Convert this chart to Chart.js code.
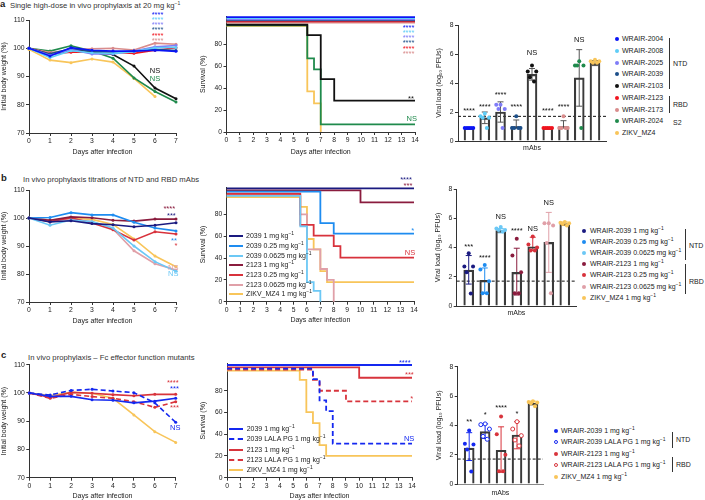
<!DOCTYPE html>
<html lang="en">
<head>
<meta charset="UTF-8">
<title>In vivo prophylaxis</title>
<script src="https://cdn.jsdelivr.net/npm/chart.js"></script>
<style>
  body { margin: 0; background: #fff; }
  #fig { position: relative; width: 705px; height: 500px; overflow: hidden; font-family: "Liberation Sans", Arial, sans-serif; color: #222; }
  #fig canvas { position: absolute; }
  .lbl { position: absolute; white-space: nowrap; font-size: 7px; line-height: 8px; transform: translateY(-50%); }
  .lbl sup { font-size: 5px; vertical-align: 3px; line-height: 0; }
  .ttl { font-size: 7.7px; color: #333; }
  .big { font-weight: bold; font-size: 9.5px; }
  .dot { position: absolute; width: 4px; height: 4px; border-radius: 50%; transform: translate(-50%, -50%); box-sizing: border-box; }
  .bk { position: absolute; width: 0; border-left: 1px solid #333; }
  .key { position: absolute; width: 14px; height: 0; }
</style>
</head>
<body>
<div id="fig"></div>
<script>
// ---- data ----
const days = [0, 1, 2, 3, 4, 5, 6, 7];
const lodLine = 1.7;

// panel a
const namesA = ['WRAIR-2004', 'WRAIR-2008', 'WRAIR-2025', 'WRAIR-2039', 'WRAIR-2103', 'WRAIR-2123', 'WRAIR-2173', 'WRAIR-2024', 'ZIKV_MZ4'];
const colorsA = ['#0a14f5', '#5fcdf7', '#7f7cf7', '#1c4f8a', '#111111', '#f0141e', '#d98c8c', '#1f8a4c', '#f8c55a'];
const weightA = [
  [100, 97.3, 100.2, 99.3, 99.0, 99.0, 99.3, 98.9],
  [100, 96.7, 99.1, 98.4, 98.2, 98.8, 100.2, 100.3],
  [100, 97.5, 99.5, 98.0, 98.0, 99.0, 100.5, 101.0],
  [100, 98.0, 99.8, 99.0, 98.6, 99.0, 99.6, 99.2],
  [100, 97.6, 99.3, 98.8, 97.8, 93.7, 85.9, 82.1],
  [100, 98.0, 98.6, 98.6, 98.6, 98.2, 99.3, 100.2],
  [100, 98.5, 99.4, 99.8, 100.0, 99.4, 101.8, 101.4],
  [100, 99.0, 100.9, 99.0, 96.5, 89.5, 84.7, 81.0],
  [99.6, 95.8, 94.9, 96.2, 95.1, 89.3, 82.9]
];
const survA = [
  [[0, 104.5], [14, 104.5]],
  [[0, 103.5], [14, 103.5]],
  [[0, 102.5], [14, 102.5]],
  [[0, 101.5], [14, 101.5]],
  [[0, 97.5], [6, 88], [7, 48], [8, 28.5], [14, 28.5]],
  [[0, 100.5], [14, 100.5]],
  [[0, 99.5], [14, 99.5]],
  [[0, 97], [6, 67], [6.5, 57], [7, 7], [14, 7]],
  [[0, 96.5], [6, 37], [6.5, 26], [7, 0]]
];
const loadMeanA = [0.9, 1.6, 2.0, 1.0, 4.6, 0.9, 1.0, 4.35, 5.35];
const loadLoA = [0.9, 1.2, 1.3, 0.9, 4.2, 0.9, 0.9, 2.4, 5.2];
const loadHiA = [0.9, 2.0, 2.7, 1.45, 5.0, 0.9, 1.4, 6.3, 5.55];
const loadPtsA = [
  [0.9, 0.9, 0.9, 0.9, 0.9], [1.9, 1.7, 1.6, 1.6, 0.9], [2.5, 2.5, 2.2, 2.2, 0.9],
  [1.7, 0.9, 0.9, 0.9, 0.9], [5.2, 4.8, 4.8, 4.4, 4.1], [0.9, 0.9, 0.9, 0.9, 0.9],
  [1.7, 0.9, 0.9, 0.9, 0.9], [5.5, 5.2, 5.2, 5.2, 0.9], [5.6, 5.5, 5.5, 5.4, 5.4]
];
const weightNotesA = [['****', 6.12, 112.6, colorsA[0]], ['****', 6.12, 110.8, colorsA[1]], ['****', 6.12, 109.0, colorsA[2]],
  ['****', 6.12, 107.1, colorsA[3]], ['****', 6.12, 105.2, colorsA[5]], ['****', 6.12, 103.4, colorsA[6]],
  ['NS', 6.0, 92.0, colorsA[4]], ['NS', 6.0, 89.1, colorsA[7]]];
const survNotesA = [['****', 13.52, 96.4, colorsA[0]], ['****', 13.52, 91.8, colorsA[1]], ['****', 13.52, 87.3, colorsA[2]],
  ['****', 13.52, 82.5, colorsA[3]], ['****', 13.52, 77.5, colorsA[5]], ['****', 13.52, 73.0, colorsA[6]],
  ['**', 13.7, 31.8, colorsA[4]], ['NS', 13.76, 11.8, colorsA[7]]];
const loadNotesA = [['****', 0, 2.2], ['****', 1, 2.5], ['****', 2, 3.3], ['****', 3, 2.5], ['NS', 4, 6.1], ['****', 5, 2.2], ['****', 6, 2.5], ['NS', 7, 7.0]];

// panel b
const mabB = ['2039', '2039', '2039', '2123', '2123', '2123', 'ZIKV_MZ4'];
const doseB = ['1', '0.25', '0.0625', '1', '0.25', '0.0625', '1'];
const colorsB = ['#1a1a80', '#1e8cf0', '#6cc8f5', '#8a1c3e', '#d8323c', '#e0a0a8', '#f8c55a'];
const weightB = [
  [100, 98.6, 99.0, 98.0, 97.6, 96.9, 97.4, 98.3],
  [100, 100.2, 101.9, 101.1, 101.1, 98.5, 96.4, 95.4],
  [100, 97.4, 99.3, 98.7, 96.4, 90.0, 84.4, 81.0],
  [100, 99.2, 100.4, 100.1, 99.2, 98.9, 99.6, 99.6],
  [100, 98.7, 100.1, 98.2, 95.8, 92.1, 95.1, 94.3],
  [100, 99.3, 99.6, 98.7, 96.1, 88.3, 83.7, 81.4],
  [100, 99.3, 99.9, 99.5, 97.7, 92.5, 86.4, 82.6]
];
const survB = [
  [[0, 104], [14, 104]],
  [[0, 101], [7, 72], [8, 62.4], [14, 62.4]],
  [[0, 97], [5.5, 69], [6, 18], [6.5, 10], [7, 0]],
  [[0, 102], [10, 91], [14, 91]],
  [[0, 99], [5.5, 70.4], [6.5, 60.6], [8, 51], [8.5, 40.4], [14, 40.4]],
  [[0, 98], [5.5, 80], [6, 48], [7, 30], [7.5, 20], [8, 0]],
  [[0, 96], [5.5, 87], [6, 57.5], [6.5, 48], [7, 28], [7.5, 18], [14, 18]]
];
const loadMeanB = [2.45, 1.75, 5.15, 2.3, 4.05, 4.35, 5.63];
const loadLoB = [1.5, 0.87, 5.0, 0.75, 3.8, 2.3, 5.5];
const loadHiB = [3.45, 2.6, 5.3, 3.95, 4.7, 6.4, 5.75];
const loadPtsB = [
  [3.6, 2.7, 2.7, 2.3, 0.85], [2.8, 2.5, 1.7, 0.87, 0.87], [5.4, 5.3, 5.2, 5.2, 5.1],
  [4.6, 3.45, 2.3, 0.87, 0.87], [4.75, 4.2, 4.0, 3.8, 3.8], [5.65, 5.65, 5.5, 4.3, 0.87],
  [5.75, 5.7, 5.65, 5.6, 5.5]
];
const weightNotesB = [['****', 6.68, 103.9, colorsB[3]], ['***', 6.78, 101.4, colorsB[0]], ['**', 6.9, 92.5, colorsB[1]],
  ['*', 7.0, 90.7, colorsB[4]], ['NS', 6.87, 82.1, colorsB[5]], ['NS', 6.87, 80.0, colorsB[2]]];
const survNotesB = [['****', 13.4, 113.2, colorsB[0]], ['***', 13.55, 107.7, colorsB[3]], ['*', 13.9, 66.7, colorsB[1]], ['NS', 13.7, 44.7, colorsB[4]]];
const loadNotesB = [['***', 0, 4.2], ['****', 1, 3.4], ['NS', 2, 6.06], ['****', 3, 5.3], ['NS', 4, 5.3], ['NS', 5, 7.06]];

// panel c
const mabC = ['2039', '2039 LALA PG', '2123', '2123 LALA PG', 'ZIKV_MZ4'];
const colorsC = ['#1428f0', '#1428f0', '#d8343c', '#d8343c', '#f8c55a'];
const lalaC = [false, true, false, true, false];
const weightC = [
  [100, 98.8, 98.8, 97.6, 97.4, 96.5, 97.1, 98.1],
  [100, 99.3, 100.9, 101.3, 100.7, 100.1, 96.5, 89.6],
  [100, 98.4, 100.2, 99.9, 99.4, 99.0, 99.5, 99.5],
  [100, 98.1, 99.5, 98.7, 98.1, 96.9, 94.9, 96.9],
  [100, 99.1, 100.2, 99.9, 98.1, 92.2, 86.3, 82.5]
];
const survC = [
  [[0, 103.7], [14, 103.7]],
  [[0, 100.3], [6.5, 90.8], [7, 71.2], [7.5, 61.3], [8, 31.3], [14, 31.3]],
  [[0, 101.5], [10, 92], [14, 92]],
  [[0, 99.5], [6.5, 90], [7, 80], [9, 70.2], [14, 70.2]],
  [[0, 98.5], [5.5, 90], [6, 60.4], [6.5, 50.3], [7, 30], [7.5, 20], [14, 20]]
];
const loadMeanC = [2.45, 3.57, 2.3, 3.34, 5.5];
const loadLoC = [1.6, 3.1, 0.8, 2.4, 5.4];
const loadHiC = [3.5, 4.1, 3.9, 4.25, 5.65];
const loadPtsC = [
  [3.65, 2.75, 2.7, 2.35, 0.85], [4.1, 4.05, 3.75, 3.25, 3.05], [4.6, 3.4, 2.0, 0.87, 0.87],
  [4.25, 3.75, 3.3, 3.0, 2.6], [5.65, 5.6, 5.55, 5.5, 5.3]
];
const weightNotesC = [['****', 6.86, 104.1, colorsC[2]], ['***', 6.94, 102.1, colorsC[0]], ['***', 6.94, 95.3, colorsC[3]], ['NS', 6.98, 87.7, colorsC[1]]];
const survNotesC = [['****', 13.45, 107.4, colorsC[0]], ['***', 13.8, 96.0, colorsC[2]], ['*', 13.98, 74.5, colorsC[3]], ['NS', 13.78, 35.3, colorsC[1]]];
const loadNotesC = [['**', 0, 4.4], ['*', 1, 4.86], ['****', 2, 5.3], ['*', 3, 4.9]];

// ---- helpers ----
Chart.defaults.font.family = '"Liberation Sans", Arial, sans-serif';
Chart.defaults.font.size = 7;
Chart.defaults.color = '#222';
const fig = document.getElementById('fig');
const jit = [0, -0.27, 0.27, -0.13, 0.13];
const sup = ' mg kg<sup>\u22121</sup>';
const tickFont = { size: 6.8 };
const titleFont = { size: 7 };

// canvas spans edges; area is where the plot box goes
function box(area, edges) {
  const c = document.createElement('canvas');
  const w = edges.r - edges.l, h = edges.b - edges.t;
  c.width = w; c.height = h;
  Object.assign(c.style, { left: edges.l + 'px', top: edges.t + 'px', width: w + 'px', height: h + 'px' });
  fig.appendChild(c);
  return { el: c, axW: area.l - edges.l, padT: area.t - edges.t, padR: edges.r - area.r, axH: edges.b - area.b };
}

function xAxis(g, min, max, step, title, showTicks, dash) {
  return {
    type: 'linear', min, max, offset: false,
    border: { display: true, color: dash ? '#888' : '#333', width: 1, dash: dash || [] },
    grid: { display: true, drawOnChartArea: false, drawTicks: showTicks, tickLength: 3, color: '#333', offset: false },
    ticks: { display: showTicks, stepSize: step, padding: 1, color: '#222', font: tickFont, maxRotation: 0, autoSkip: false },
    title: { display: true, text: title, padding: 0, color: '#222', font: titleFont },
    afterFit: s => { s.height = g.axH; }
  };
}

function yAxis(g, min, max, step, title) {
  return {
    type: 'linear', min, max,
    border: { display: true, color: '#333', width: 1 },
    grid: { display: true, drawOnChartArea: false, tickLength: 3, color: '#333' },
    ticks: { stepSize: step, padding: 1.5, color: '#222', font: tickFont },
    title: { display: true, text: title, padding: 0, color: '#222', font: titleFont },
    afterFit: s => { s.width = g.axW; },
    afterBuildTicks: s => { s.ticks = s.ticks.filter(t => t.value % step === 0); }
  };
}

function notes(items) {
  return {
    id: 'notes',
    afterDatasetsDraw(chart) {
      const { ctx, scales: { x, y } } = chart;
      ctx.save();
      ctx.font = '7.5px "Liberation Sans", Arial, sans-serif';
      ctx.textAlign = 'center';
      ctx.textBaseline = 'middle';
      items.forEach(([t, vx, vy, c]) => {
        ctx.fillStyle = c || '#111';
        ctx.fillText(t, x.getPixelForValue(vx), y.getPixelForValue(vy) + (t[0] === '*' ? 2 : 0));
      });
      ctx.restore();
    }
  };
}

function errBars(lo, hi, colors) {
  return {
    id: 'errs',
    beforeDatasetsDraw(chart) {
      const { ctx, chartArea: ca, scales: { x, y } } = chart;
      ctx.save();
      ctx.strokeStyle = '#111'; ctx.lineWidth = 1; ctx.setLineDash([3, 2]);
      const ly = y.getPixelForValue(lodLine);
      ctx.beginPath(); ctx.moveTo(ca.left, ly); ctx.lineTo(ca.right, ly); ctx.stroke();
      ctx.setLineDash([]);
      lo.forEach((l, i) => {
        if (hi[i] - l < 0.02) return;
        const cx = x.getPixelForValue(i), y1 = y.getPixelForValue(l), y2 = y.getPixelForValue(hi[i]);
        ctx.strokeStyle = colors[i];
        ctx.beginPath();
        ctx.moveTo(cx, y1); ctx.lineTo(cx, y2);
        ctx.moveTo(cx - 3, y1); ctx.lineTo(cx + 3, y1);
        ctx.moveTo(cx - 3, y2); ctx.lineTo(cx + 3, y2);
        ctx.stroke();
      });
      ctx.restore();
    }
  };
}

function chart(g, datasets, xs, ys, plugins) {
  return new Chart(g.el, {
    type: 'line',
    data: { datasets },
    options: {
      responsive: false, animation: false, events: [],
      layout: { padding: { left: 0, top: g.padT, right: g.padR, bottom: 0 } },
      plugins: { legend: { display: false }, tooltip: { enabled: false } },
      scales: { x: xs, y: ys }
    },
    plugins
  });
}

function weightChart(area, edges, series, colors, dashed, items) {
  const g = box(area, edges);
  const ds = series.map((v, i) => ({
    data: v.map((y, k) => ({ x: days[k], y })),
    borderColor: colors[i], backgroundColor: colors[i], pointBackgroundColor: colors[i],
    borderWidth: 1.6, pointRadius: 1.5, pointBorderWidth: 0, tension: 0, clip: false,
    borderDash: dashed && dashed[i] ? [5, 3] : []
  }));
  chart(g, ds, xAxis(g, 0, 7, 1, 'Days after infection', true), yAxis(g, 70, 110, 10, 'Initial body weight (%)'), [notes(items)]);
}

function survChart(area, edges, series, colors, dashed, items) {
  const g = box(area, edges);
  const ds = series.map((s, i) => ({
    data: s.map(([x, y]) => ({ x, y })),
    borderColor: colors[i], borderWidth: 1.8, pointRadius: 0, stepped: true, clip: false,
    borderDash: dashed && dashed[i] ? [5, 3] : []
  }));
  chart(g, ds, xAxis(g, 0, 14, 1, 'Days after infection', true), yAxis(g, 0, 105, 20, 'Survival (%)'), [notes(items)]);
}

function loadChart(area, edges, xmin, xmax, means, lo, hi, pts, colors, open, errCol, items, baseDash) {
  const g = box(area, edges);
  const pxy = [], fill = [], line = [], bw = [];
  pts.forEach((arr, i) => arr.forEach((v, k) => {
    pxy.push({ x: i + jit[k % jit.length], y: v });
    const o = open && open[i];
    fill.push(o ? '#fff' : colors[i]); line.push(colors[i]); bw.push(o ? 1 : 0);
  }));
  const ds = [
    { type: 'scatter', data: pxy, pointRadius: 2, pointBackgroundColor: fill, pointBorderColor: line, pointBorderWidth: bw, showLine: false, order: 1, clip: false },
    { type: 'bar', data: means.map((m, i) => ({ x: i, y: m })), backgroundColor: 'rgba(255,255,255,0)', borderColor: '#3a3a3a', borderWidth: 1.5, barThickness: 10, order: 2 }
  ];
  const xs = xAxis(g, xmin, xmax, 1, 'mAbs', false, baseDash);
  chart(g, ds, xs, yAxis(g, 0, 8, 2, 'Viral load (log\u2081\u2080 PFUs)'), [errBars(lo, hi, errCol), notes(items)]);
}

function text(html, x, y, cls) {
  const d = document.createElement('div');
  d.className = 'lbl' + (cls ? ' ' + cls : '');
  d.style.left = x + 'px'; d.style.top = y + 'px';
  d.innerHTML = html;
  fig.appendChild(d);
}
function dotKey(names, colors, open, xd, xt, y0, dy) {
  names.forEach((n, i) => {
    const d = document.createElement('div');
    d.className = 'dot';
    d.style.left = xd + 'px'; d.style.top = (y0 + i * dy) + 'px';
    d.style.background = open && open[i] ? '#fff' : colors[i];
    if (open && open[i]) d.style.border = '1px solid ' + colors[i];
    fig.appendChild(d);
    text(n, xt, y0 + i * dy);
  });
}
function lineKey(names, colors, dashed, x, xt, y0, dy) {
  names.forEach((n, i) => {
    const d = document.createElement('div');
    d.className = 'key';
    d.style.left = x + 'px'; d.style.top = (y0 + i * dy - 1) + 'px';
    d.style.borderTop = '2px ' + (dashed && dashed[i] ? 'dashed ' : 'solid ') + colors[i];
    fig.appendChild(d);
    text(n, xt, y0 + i * dy);
  });
}
function bracket(x, y1, y2, label, ly) {
  const d = document.createElement('div');
  d.className = 'bk';
  d.style.left = x + 'px'; d.style.top = y1 + 'px'; d.style.height = (y2 - y1) + 'px';
  fig.appendChild(d);
  text(label, x + 4, ly);
}

// ---- panel a ----
text('a', 0, 4, 'big');
text('Single high-dose in vivo prophylaxis at 20' + sup, 10, 6, 'ttl');
weightChart({ l: 29, r: 176, t: 20, b: 133 }, { l: 0, t: 4, r: 186, b: 156 }, weightA, colorsA, null, weightNotesA);
survChart({ l: 226.5, r: 415, t: 16.5, b: 132 }, { l: 199, t: 6, r: 424, b: 156 }, survA, colorsA, null, survNotesA);
loadChart({ l: 458, r: 606, t: 25, b: 141 }, { l: 435, t: 15, r: 610, b: 152 }, -0.7, 8.7,
  loadMeanA, loadLoA, loadHiA, loadPtsA, colorsA, null, loadPtsA.map(() => '#555'), loadNotesA);
dotKey(namesA, colorsA, null, 617, 622, 39, 11.75);
bracket(669, 37.5, 88.5, 'NTD', 63.5);
bracket(669, 96, 113, 'RBD', 105);
text('S2', 673, 123);

// ---- panel b ----
text('b', 1, 178, 'big');
text('In vivo prophylaxis titrations of NTD and RBD mAbs', 23, 180, 'ttl');
weightChart({ l: 29, r: 176, t: 190, b: 302 }, { l: 0, t: 184, r: 186, b: 325 }, weightB, colorsB, null, weightNotesB);
survChart({ l: 226.7, r: 414, t: 187.2, b: 301.7 }, { l: 199, t: 170, r: 424, b: 324 }, survB, colorsB, null, survNotesB);
loadChart({ l: 456.7, r: 576, t: 189, b: 306 }, { l: 434, t: 180, r: 580, b: 317 }, -0.75, 6.7,
  loadMeanB, loadLoB, loadHiB, loadPtsB, colorsB, null, colorsB, loadNotesB);
lineKey(mabB.map((m, i) => m + ' ' + doseB[i] + sup), colorsB, null, 229, 246, 236.3, 9.67);
dotKey(mabB.map((m, i) => (/^\d/.test(m) ? 'WRAIR-' : '') + m + ' ' + doseB[i] + sup), colorsB, null, 584, 590, 230.5, 11.2);
bracket(685, 229, 260, 'NTD', 245.5);
bracket(685, 264, 294, 'RBD', 281.5);

// ---- panel c ----
text('c', 1, 355, 'big');
text('In vivo prophylaxis \u2013 Fc effector function mutants', 28, 358, 'ttl');
weightChart({ l: 29.3, r: 175.7, t: 364.7, b: 477.7 }, { l: 0, t: 356, r: 186, b: 500 }, weightC, colorsC, lalaC, weightNotesC);
survChart({ l: 227.1, r: 412, t: 363.6, b: 477.7 }, { l: 199, t: 350, r: 422, b: 500 }, survC, colorsC, lalaC, survNotesC);
loadChart({ l: 457.7, r: 543.3, t: 366.7, b: 484 }, { l: 435, t: 357, r: 548, b: 497 }, -0.72, 4.63,
  loadMeanC, loadLoC, loadHiC, loadPtsC, colorsC, lalaC, colorsC, loadNotesC, [2, 2]);
lineKey(mabC.map(m => m + ' 1' + sup), colorsC, lalaC, 229, 246.7, 429.3, 10.17);
dotKey(mabC.map(m => (/^\d/.test(m) ? 'WRAIR-' : '') + m + ' 1' + sup), colorsC, lalaC, 556, 561, 430.7, 11.5);
bracket(672, 431.5, 447.5, 'NTD', 440);
bracket(672, 456.5, 472, 'RBD', 465);
</script>
</body>
</html>
